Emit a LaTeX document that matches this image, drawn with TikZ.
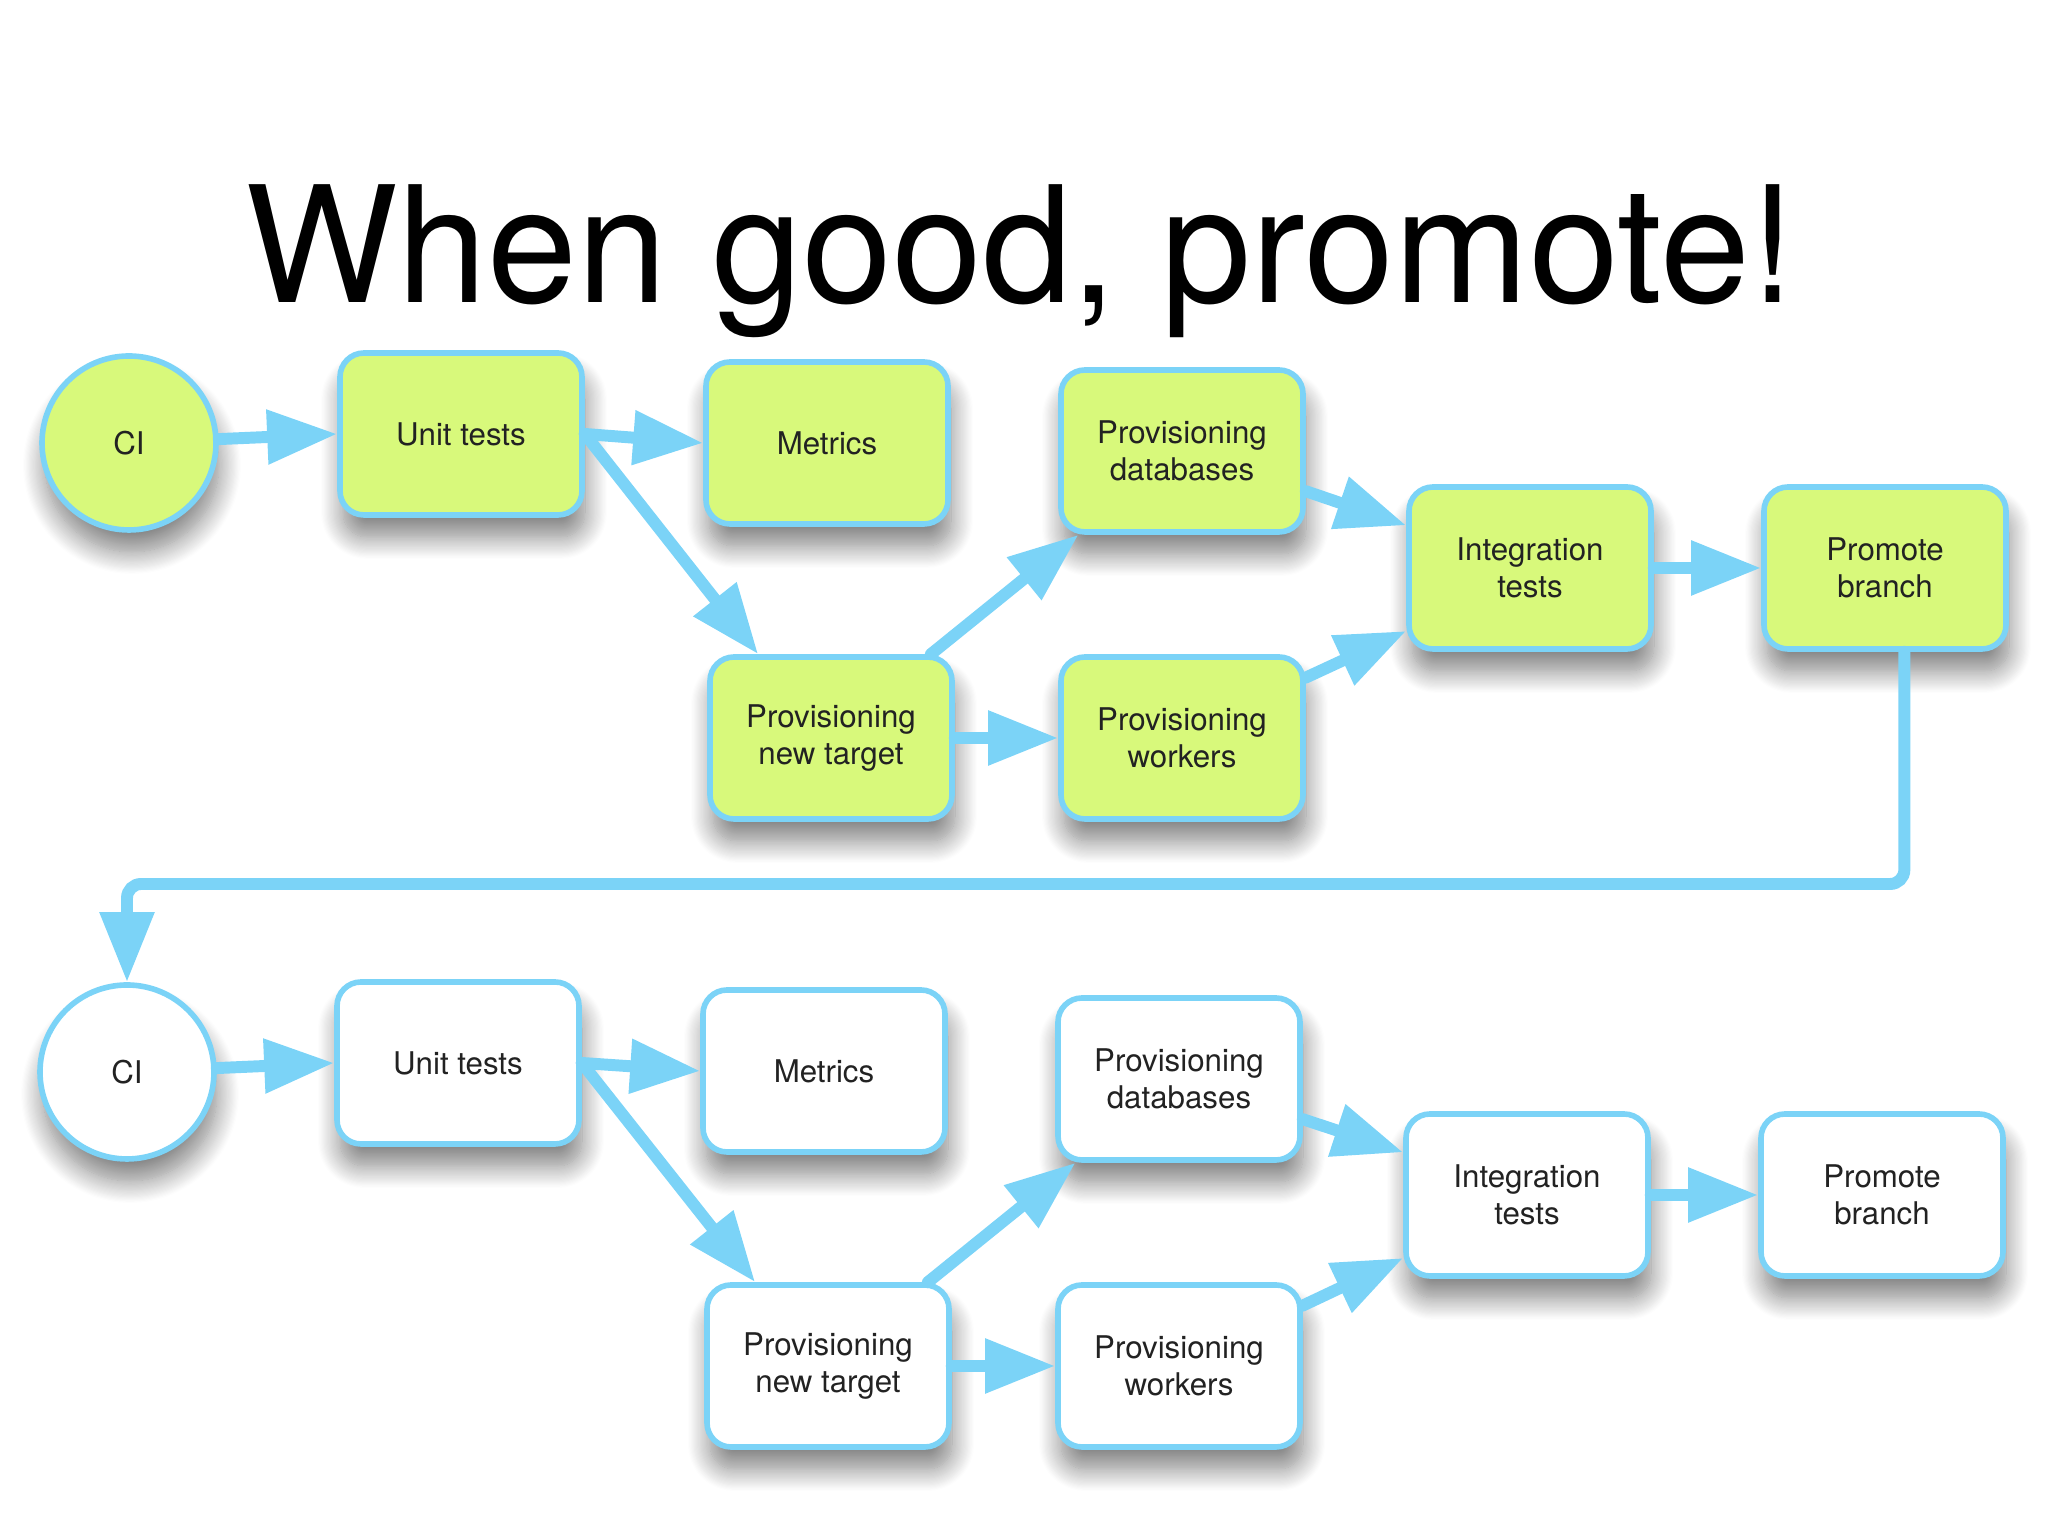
\documentclass[tikz,border=0pt]{standalone}
\usepackage{fontspec}
\setmainfont{TeX Gyre Heros}
\usepackage{tikz}
\usetikzlibrary{arrows.meta,shadows.blur}

\definecolor{limefill}{HTML}{D8F97B}
\definecolor{skyline}{HTML}{7BD3F7}
\definecolor{inktext}{HTML}{222222}

\begin{document}
\begin{tikzpicture}[
    job/.style={draw=skyline, line width=1.6pt, rounded corners=0.24cm,
      minimum width=2.42cm, minimum height=1.62cm, align=center, text=inktext,
      font=\fontsize{8.9}{10.4}\selectfont,
      blur shadow={shadow xshift=0.03cm, shadow yshift=-0.22cm,
        shadow blur radius=0.22cm, shadow blur steps=20, shadow opacity=50}},
    trigger/.style={job, circle, minimum size=1.74cm, inner sep=0pt},
    done/.style={fill=limefill},
    todo/.style={fill=white},
    flow/.style={draw=skyline, line width=3.4pt, line cap=round,
      -{Triangle[length=0.7cm, width=0.52cm]}}
  ]
  \useasboundingbox (0,0) rectangle (20.48,15.36);

  \node[font=\fontsize{46}{52}\selectfont, anchor=base] (title) at (10.2,12.33) {When good, promote!};

  % first pass, all green
  \node[trigger, done] (ci1) at (1.29,10.93) {CI};
  \node[job, done] (ut1) at (4.61,11.02) {Unit tests};
  \node[job, done] (m1) at (8.27,10.93) {Metrics};
  \node[job, done] (db1) at (11.82,10.85) {Provisioning\\databases};
  \node[job, done] (nt1) at (8.31,7.98) {Provisioning\\new target};
  \node[job, done] (w1) at (11.82,7.98) {Provisioning\\workers};
  \node[job, done] (it1) at (15.30,9.68) {Integration\\tests};
  \node[job, done] (pb1) at (18.85,9.68) {Promote\\branch};

  % second pass, not run yet
  \node[trigger, todo] (ci2) at (1.27,4.64) {CI};
  \node[job, todo] (ut2) at (4.58,4.73) {Unit tests};
  \node[job, todo] (m2) at (8.24,4.65) {Metrics};
  \node[job, todo] (db2) at (11.79,4.57) {Provisioning\\databases};
  \node[job, todo] (nt2) at (8.28,1.70) {Provisioning\\new target};
  \node[job, todo] (w2) at (11.79,1.70) {Provisioning\\workers};
  \node[job, todo] (it2) at (15.27,3.41) {Integration\\tests};
  \node[job, todo] (pb2) at (18.82,3.41) {Promote\\branch};

  \coordinate (back) at (1.27,6.52);

  \draw[flow] (ci1) to (ut1.west);
  \draw[flow] (ut1.east) to (m1.west);
  \draw[flow] (ut1.east) to (nt1.131);
  \draw[flow] (nt1.40) to (db1.219);
  \draw[flow] (nt1.east) to (w1.west);
  \draw[flow] (db1.-18) to (it1.161);
  \draw[flow] (w1.26) to (it1.207);
  \draw[flow] (it1.east) to (pb1.west);

  \draw[flow, rounded corners=4pt] (pb1.-77) |- (back) -- (ci2.north);

  \draw[flow] (ci2) to (ut2.west);
  \draw[flow] (ut2.east) to (m2.west);
  \draw[flow] (ut2.east) to (nt2.131);
  \draw[flow] (nt2.40) to (db2.219);
  \draw[flow] (nt2.east) to (w2.west);
  \draw[flow] (db2.-18) to (it2.161);
  \draw[flow] (w2.26) to (it2.207);
  \draw[flow] (it2.east) to (pb2.west);
\end{tikzpicture}
\end{document}
